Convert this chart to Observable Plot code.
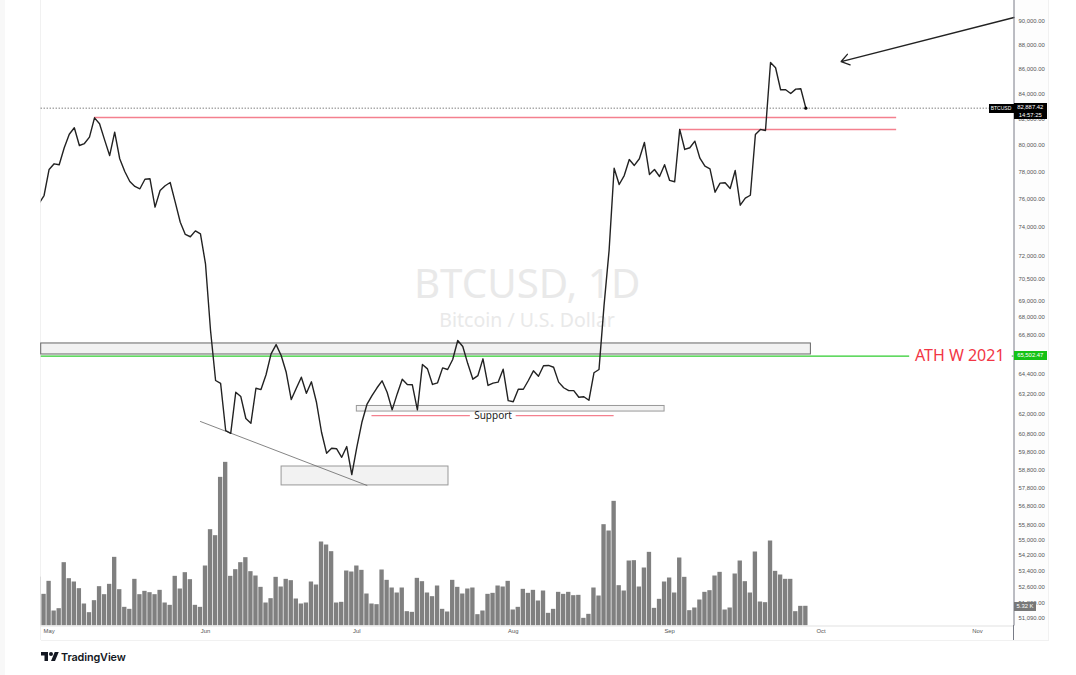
<!DOCTYPE html>
<html><head><meta charset="utf-8">
<script src="https://cdn.jsdelivr.net/npm/d3@7"></script>
<script src="https://cdn.jsdelivr.net/npm/@observablehq/plot@0.6"></script>
<style>
html,body{margin:0;padding:0;background:#fff;}
#page{position:relative;width:1076px;height:675px;overflow:hidden;font-family:"Liberation Sans",sans-serif;}
#page svg{position:absolute;left:0;top:0;}
.chrome{position:absolute;}
.tag{position:absolute;color:#fff;font-size:5.9px;line-height:8px;text-align:center;white-space:pre;}
</style></head><body><div id="page"></div>
<script>
const firstDay = "2024-04-29";
const closes = [
75710,76290,78200,78620,78550,79830,80860,81360,80000,80150,80640,82130,81670,80430,79240,81020,79000,78050,77310,76950,
76780,77480,77510,75450,76650,77000,77240,75810,74380,73520,73360,73770,73560,71500,67110,64000,63820,61030,60870,63290,
63030,61730,61450,63530,63450,64350,65640,66220,65540,64500,62850,63530,64200,63230,63920,62690,60930,59730,60010,59980,
59500,60110,58530,60070,61510,62560,63090,63560,63980,63290,62240,63190,64080,63760,63740,62240,64980,64710,63760,63860,
64770,64670,65290,66480,66100,65020,64080,64300,65330,63700,63840,63900,64690,62790,62720,63470,63470,64000,64590,64260,
64900,64920,64810,63900,63560,63390,63390,62990,63020,62810,64470,64670,68730,72410,78290,77090,77750,78940,78500,79000,
80230,77830,78200,77680,78550,77390,77290,81230,79700,79830,80330,79040,78440,78250,76530,77190,77220,76800,78120,75590,
76100,76310,80840,81230,81150,86560,86130,84350,84350,84050,84400,84430,82887];
const volumes = [
13.2,8.55,12.06,4.05,4.68,17.1,12.78,11.88,10.08,5.94,3.6,6.84,10.62,8.46,11.25,18.54,9.81,5.04,4.5,12.6,
8.46,9.36,9,8.46,9.63,6.21,5.58,13.41,9.99,14.4,12.51,5.58,5.04,16.2,26.01,24.39,40.14,44.19,13.41,15.21,
17.1,18.45,14.67,13.5,10.44,6.21,7.38,13.14,10.53,12.6,12.24,7.29,5.94,6.21,11.88,11.07,22.68,21.87,20.07,6.21,
6.39,14.85,14.58,16.2,15.03,8.64,5.94,5.76,15.12,12.33,10.26,8.91,10.26,3.87,3.69,12.87,11.97,8.91,7.92,10.8,
4.5,3.78,12.33,10.44,8.64,9.99,10.26,3.06,4.05,8.55,8.82,10.8,10.53,12.06,4.32,5.04,9.9,8.82,9.63,6.75,
9.45,3.42,4.5,9.09,8.55,9.09,8.19,8.28,2.07,3.15,10.26,8.1,27.36,25.65,33.66,10.89,9.45,17.55,17.64,10.53,
15.66,19.89,4.77,7.2,11.88,12.96,8.91,18.36,13.14,4.14,4.86,7.02,9.09,9.54,13.5,14.49,4.32,4.86,14.04,17.55,
11.97,8.91,19.98,6.48,6.3,22.95,14.76,13.77,12.6,12.6,3.87,5.31,5.32];
const priceTicks = [90000,88000,86000,84000,82000,80000,78000,76000,74000,72000,70500,69000,68000,66800,64400,63200,62000,60800,59800,58800,57800,56800,55800,55000,54200,53400,52600,51800,51090];
const monthTicks = ["2024-05-01","2024-06-01","2024-07-01","2024-08-01","2024-09-01","2024-10-01","2024-11-01"];
const xDomain = ["2024-04-29T10:25Z","2024-11-08T06:15Z"];
const priceDomain = [50691,91810];
const volumeDomain = [0,168.9];
const lastClose = 82887.42;
const athLevel = 65502.47;
const zones = [
 {x1:"2024-04-29T10:25Z",x2:"2024-09-29",y1:65600,y2:66290,stroke:"#666"},
 {x1:"2024-07-01",x2:"2024-08-31",y1:62140,y2:62470,stroke:"#999"},
 {x1:"2024-06-16T02:00Z",x2:"2024-07-19T04:00Z",y1:57930,y2:58980,stroke:"#999"}];
const levels = [
 {x1:"2024-05-10",x2:"2024-10-16",y:82156},
 {x1:"2024-09-03",x2:"2024-10-16",y:81225},
 {x1:"2024-07-04",x2:"2024-07-23T12:00Z",y:61900},
 {x1:"2024-08-01T14:00Z",x2:"2024-08-21",y:61900}];
const athSegments = [
 {x1:"2024-04-29T10:25Z",x2:"2024-10-18T14:00Z"},
 {x1:"2024-11-07T22:00Z",x2:"2024-11-08T06:15Z"}];
const trend = [{x:"2024-05-31",y:61555},{x:"2024-07-03",y:57930}];
const pointer = [{x1:"2024-11-08T06:15Z",y1:90340,x2:"2024-10-05",y2:86640}];
const labels = [
 {x:"2024-08-03T18:00Z",y:70040,t:"BTCUSD, 1D",s:40.3,c:"#e9e9e9"},
 {x:"2024-08-03T18:00Z",y:67750,t:"Bitcoin / U.S. Dollar",s:19.5,c:"#e9e9e9"},
 {x:"2024-07-28",y:61900,t:"Support",s:10,c:"#222"},
 {x:"2024-10-28T12:00Z",y:65502,t:"ATH W 2021",s:16,c:"#f23645"}];

const dt = s => new Date(s.length===10 ? s+"T00:00Z" : s);
const start = dt(firstDay);
const days = closes.map((c,i)=>({date:d3.utcDay.offset(start,i),close:c,vol:volumes[i]}));
const margins = {width:1076,height:675,marginTop:0,marginLeft:40.7,marginRight:62.5,marginBottom:49.5};
const xScale = {type:"utc",domain:xDomain.map(dt)};
const page = document.getElementById("page");

function chrome(css){const d=document.createElement("div");d.className="chrome";d.style.cssText=css;page.appendChild(d);return d;}
chrome("left:0;top:0;width:5px;height:675px;background:#f8f8f8");
chrome("left:1014px;top:0;width:34px;height:640px;background:#fdfdfd");
chrome("left:1048px;top:0;width:1px;height:640px;background:#f1f1f1");
chrome("left:41px;top:640px;width:1008px;height:1px;background:#f1f1f1");
chrome("left:40px;top:0;width:1px;height:640px;background:#f1f1f1");

const vol = Plot.plot({...margins,style:{background:"transparent"},x:{...xScale,axis:null},y:{domain:volumeDomain,axis:null},
 marks:[Plot.rect(days,{x1:d=>d3.utcHour.offset(d.date,-12),x2:d=>d3.utcHour.offset(d.date,12),y1:0,y2:"vol",fill:"#808080",insetLeft:0.35,insetRight:0.35,clip:true})]});
page.appendChild(vol);

const price = Plot.plot({...margins,style:{background:"transparent",fontFamily:"Liberation Sans"},
 x:{...xScale,label:null},
 y:{type:"log",domain:priceDomain,label:null},
 marks:[
  Plot.text(labels.slice(0,2),{x:d=>dt(d.x),y:"y",text:"t",fontSize:"s",fill:"c",fontFamily:"Noto Sans"}),
  Plot.rect(zones,{x1:d=>dt(d.x1),x2:d=>dt(d.x2),y1:"y1",y2:"y2",fill:"#f2f2f2",stroke:"stroke",strokeWidth:1}),
  Plot.ruleY([lastClose],{stroke:"#444",strokeWidth:1,strokeDasharray:"1,2"}),
  Plot.ruleY(levels,{x1:d=>dt(d.x1),x2:d=>dt(d.x2),y:"y",stroke:"#f4808e",strokeWidth:1.3}),
  Plot.ruleY(athSegments,{x1:d=>dt(d.x1),x2:d=>dt(d.x2),y:()=>athLevel,stroke:"#2ecc2e",strokeWidth:1.2}),
  Plot.line(trend,{x:d=>dt(d.x),y:"y",stroke:"#666",strokeWidth:0.8}),
  Plot.arrow(pointer,{x1:d=>dt(d.x1),y1:"y1",x2:d=>dt(d.x2),y2:"y2",stroke:"#222",strokeWidth:1.3,headLength:11,headAngle:70}),
  Plot.line(days,{x:"date",y:"close",stroke:"#222",strokeWidth:1.4,clip:true}),
  Plot.dot(days.slice(-1),{x:"date",y:"close",r:1.6,fill:"#000"}),
  Plot.text(labels.slice(2),{x:d=>dt(d.x),y:"y",text:"t",fontSize:"s",fill:"c",fontFamily:"Noto Sans"}),
  Plot.axisY({anchor:"right",ticks:priceTicks,tickFormat:d3.format(",.2f"),tickSize:0,tickPadding:4.5,fontSize:5.9,color:"#555",fill:"#555",label:null}),
  Plot.axisX({ticks:monthTicks.map(dt),tickFormat:d3.utcFormat("%b"),tickSize:0,tickPadding:3,fontSize:5.9,fill:"#555",label:null}),
  Plot.ruleY([priceDomain[0]],{stroke:"#e2e2e2",strokeWidth:1.2}),
  Plot.ruleX([dt(xDomain[1])],{stroke:"#787b86",strokeWidth:1})
 ]});
page.appendChild(price);
chrome("left:1013px;top:625px;width:1px;height:15px;background:#787b86");

const yPx = price.scale("y");
function tag(text,left,width,center,h,bg){
 const d=document.createElement("div");d.className="tag";d.textContent=text;
 d.style.left=left+"px";d.style.width=width+"px";d.style.top=(center-h/2)+"px";d.style.height=h+"px";d.style.background=bg;
 d.style.lineHeight=(h>10?h/2:h)+"px";page.appendChild(d);return d;}
const yLast = yPx.apply(lastClose);
tag("BTCUSD",988.5,25,yLast+0.5,9,"#000").style.fontSize="5px";
tag(d3.format(",.2f")(lastClose)+"\n14:57:25",1014,32.5,yLast+3.5,16,"#000");
tag(d3.format(",.2f")(athLevel),1014,32.5,yPx.apply(athLevel),9,"#15c215");
tag(d3.format(".2f")(volumes[volumes.length-1])+" K",1014,22,606.5,9,"#787878");

const logo = document.createElement("div");
logo.style.cssText="position:absolute;left:41px;top:649px;display:flex;align-items:center;height:16px;";
logo.innerHTML='<svg style="position:static" width="18" height="14" viewBox="0 0 36 28"><path d="M14 22H7V11H0V4h14v18zM28 22h-8l7.5-18h8L28 22z" fill="#131722"/><circle cx="20" cy="8" r="4" fill="#131722"/></svg><span style="font:600 10.8px Inter,sans-serif;color:#131722;margin-left:2px;letter-spacing:-0.1px">TradingView</span>';
page.appendChild(logo);
</script></body></html>
